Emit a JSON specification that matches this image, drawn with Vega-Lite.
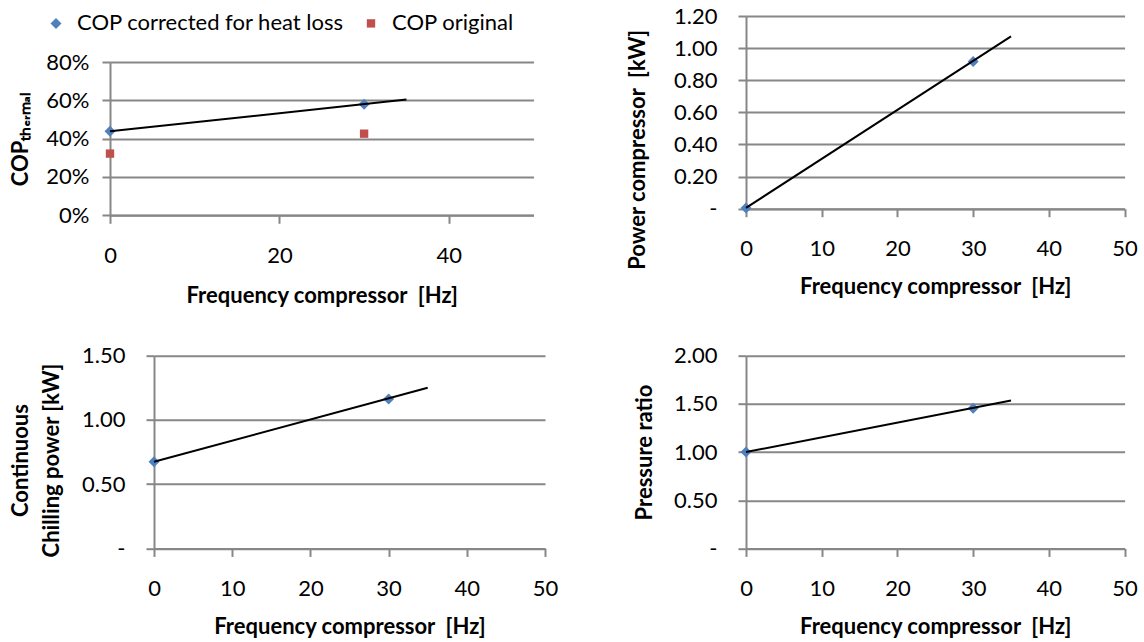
{
  "$schema": "https://vega.github.io/schema/vega-lite/v6.json",
  "padding": 0,
  "background": "white",
  "config": {
    "font": "Lato",
    "view": {"stroke": null},
    "axis": {
      "labelFont": "Lato", "labelFontSize": 22, "labelColor": "#000000", "labelOverlap": false, "labelBound": false,
      "titleFont": "Lato", "titleFontSize": 22, "titleFontWeight": "bold", "titleColor": "#000000",
      "domainColor": "#878787", "domainWidth": 2,
      "tickColor": "#878787", "tickWidth": 2, "tickSize": 8,
      "gridColor": "#878787", "gridWidth": 2
    },
    "axisX": {"grid": false, "labelPadding": 22, "titlePadding": 17, "labelAngle": 0, "labelFlush": false, "tickCount": 20},
    "axisY": {"grid": true, "labelPadding": 21, "tickCount": 20},
    "line": {"color": "#000000", "strokeWidth": 2}
  },
  "vconcat": [
    {
      "hconcat": [
        {"width": 8.2, "height": 1, "data": {"values": []}, "mark": "point", "view": {"fill": "transparent", "stroke": null}},
        {
          "vconcat": [
            {"width": 1, "height": 50.4, "data": {"values": []}, "mark": "point", "view": {"fill": "transparent", "stroke": null}},
            {
              "width": 423.5, "height": 153.3,
              "layer": [
                {
                  "data": {"values": [
                    {"f": 0, "v": 0.438, "s": "COP corrected for heat loss"},
                    {"f": 30, "v": 0.579, "s": "COP corrected for heat loss"},
                    {"f": 0, "v": 0.322, "s": "COP original"},
                    {"f": 30, "v": 0.426, "s": "COP original"}
                  ]},
                  "mark": {"type": "point", "filled": true, "opacity": 1},
                  "encoding": {
                    "x": {"field": "f", "type": "quantitative", "scale": {"domain": [0, 50], "nice": false},
                          "axis": {"values": [0, 20, 40], "tickCount": 20, "title": "Frequency compressor\u00a0 [Hz]", "titlePadding": 19}},
                    "y": {"field": "v", "type": "quantitative", "scale": {"domain": [0, 0.8], "nice": false},
                          "axis": {"values": [0, 0.2, 0.4, 0.6, 0.8], "tickCount": 20, "format": ".0%", "title": "COPₜₕₑᵣₘₐₗ", "labelPadding": 13, "titlePadding": 13}},
                    "color": {"field": "s", "type": "nominal", "title": null,
                              "scale": {"domain": ["COP corrected for heat loss", "COP original"], "range": ["#4F81BD", "#C0504D"]},
                              "legend": {"orient": "none", "legendX": 45, "legendY": 12.4, "direction": "horizontal", "padding": 0,
                                         "labelFontSize": 22, "labelFont": "Lato", "labelColor": "#000000", "labelLimit": 0, "symbolSize": 100,
                                         "labelOffset": 10, "columnPadding": 15, "symbolStrokeWidth": 0}},
                    "shape": {"field": "s", "type": "nominal", "title": null,
                              "scale": {"domain": ["COP corrected for heat loss", "COP original"], "range": ["diamond", "square"]},
                              "legend": {"orient": "none", "legendX": 45, "legendY": 12.4, "direction": "horizontal", "padding": 0,
                                         "labelFontSize": 22, "labelFont": "Lato", "labelColor": "#000000", "labelLimit": 0, "symbolSize": 100,
                                         "labelOffset": 10, "columnPadding": 15, "symbolStrokeWidth": 0}},
                    "size": {"field": "s", "type": "nominal",
                             "scale": {"domain": ["COP corrected for heat loss", "COP original"], "range": [121, 70]}, "legend": null}
                  }
                },
                {
                  "data": {"values": [{"f": 0, "v": 0.438}, {"f": 35, "v": 0.604}]},
                  "mark": {"type": "line"},
                  "encoding": {
                    "x": {"field": "f", "type": "quantitative"},
                    "y": {"field": "v", "type": "quantitative"}
                  }
                }
              ]
            }
          ],
          "spacing": 0
        },
        {"width": 91.1, "height": 1, "data": {"values": []}, "mark": "point", "view": {"fill": "transparent", "stroke": null}},
        {
          "vconcat": [
            {"width": 1, "height": 4.4, "data": {"values": []}, "mark": "point", "view": {"fill": "transparent", "stroke": null}},
            {
              "width": 378.6, "height": 192.7,
              "layer": [
                {
                  "data": {"values": [{"f": 0, "v": 0.005}, {"f": 30, "v": 0.917}]},
                  "mark": {"type": "point", "filled": true, "opacity": 1, "shape": "diamond", "size": 121, "color": "#4F81BD"},
                  "encoding": {
                    "x": {"field": "f", "type": "quantitative", "scale": {"domain": [0, 50], "nice": false},
                          "axis": {"values": [0, 10, 20, 30, 40, 50], "tickCount": 20, "title": "Frequency compressor\u00a0 [Hz]"}},
                    "y": {"field": "v", "type": "quantitative", "scale": {"domain": [0, 1.2], "nice": false},
                          "axis": {"values": [0, 0.2, 0.4, 0.6, 0.8, 1, 1.2], "tickCount": 20, "labelExpr": "datum.value === 0 ? '-\u2002\u2002' : format(datum.value, '.2f')",
                                   "title": "Power compressor\u00a0 [kW]", "titlePadding": 24.4, "titleY": 133.3}}
                  }
                },
                {
                  "data": {"values": [{"f": 0, "v": 0.005}, {"f": 35, "v": 1.073}]},
                  "mark": {"type": "line"},
                  "encoding": {
                    "x": {"field": "f", "type": "quantitative"},
                    "y": {"field": "v", "type": "quantitative"}
                  }
                }
              ]
            }
          ],
          "spacing": 0
        }
      ],
      "spacing": 0
    },
    {
      "hconcat": [
        {"width": 8.9, "height": 1, "data": {"values": []}, "mark": "point", "view": {"fill": "transparent", "stroke": null}},
        {
          "width": 391, "height": 192.7,
          "layer": [
            {
              "data": {"values": [{"f": 0, "v": 0.674}, {"f": 30, "v": 1.162}]},
              "mark": {"type": "point", "filled": true, "opacity": 1, "shape": "diamond", "size": 121, "color": "#4F81BD"},
              "encoding": {
                "x": {"field": "f", "type": "quantitative", "scale": {"domain": [0, 50], "nice": false},
                      "axis": {"values": [0, 10, 20, 30, 40, 50], "tickCount": 20, "title": "Frequency compressor\u00a0 [Hz]"}},
                "y": {"field": "v", "type": "quantitative", "scale": {"domain": [0, 1.5], "nice": false},
                      "axis": {"values": [0, 0.5, 1, 1.5], "tickCount": 20, "labelExpr": "datum.value === 0 ? '-\u2002\u2002' : format(datum.value, '.2f')",
                               "title": ["Continuous", "Chilling power [kW]"], "titleLineHeight": 31.6, "titlePadding": 17.6, "titleY": 104.3}}
              }
            },
            {
              "data": {"values": [{"f": 0, "v": 0.674}, {"f": 35, "v": 1.25}]},
              "mark": {"type": "line"},
              "encoding": {
                "x": {"field": "f", "type": "quantitative"},
                "y": {"field": "v", "type": "quantitative"}
              }
            }
          ]
        },
        {"width": 74.8, "height": 1, "data": {"values": []}, "mark": "point", "view": {"fill": "transparent", "stroke": null}},
        {
          "width": 378.6, "height": 192.7,
          "layer": [
            {
              "data": {"values": [{"f": 0, "v": 1.0}, {"f": 30, "v": 1.455}]},
              "mark": {"type": "point", "filled": true, "opacity": 1, "shape": "diamond", "size": 121, "color": "#4F81BD"},
              "encoding": {
                "x": {"field": "f", "type": "quantitative", "scale": {"domain": [0, 50], "nice": false},
                      "axis": {"values": [0, 10, 20, 30, 40, 50], "tickCount": 20, "title": "Frequency compressor\u00a0 [Hz]"}},
                "y": {"field": "v", "type": "quantitative", "scale": {"domain": [0, 2], "nice": false},
                      "axis": {"values": [0, 0.5, 1, 1.5, 2], "tickCount": 20, "labelExpr": "datum.value === 0 ? '-\u2002\u2002' : format(datum.value, '.2f')",
                               "title": "Pressure ratio", "titlePadding": 17}}
              }
            },
            {
              "data": {"values": [{"f": 0, "v": 1.0}, {"f": 35, "v": 1.535}]},
              "mark": {"type": "line"},
              "encoding": {
                "x": {"field": "f", "type": "quantitative"},
                "y": {"field": "v", "type": "quantitative"}
              }
            }
          ]
        }
      ],
      "spacing": 0
    }
  ],
  "spacing": 37.7
}
